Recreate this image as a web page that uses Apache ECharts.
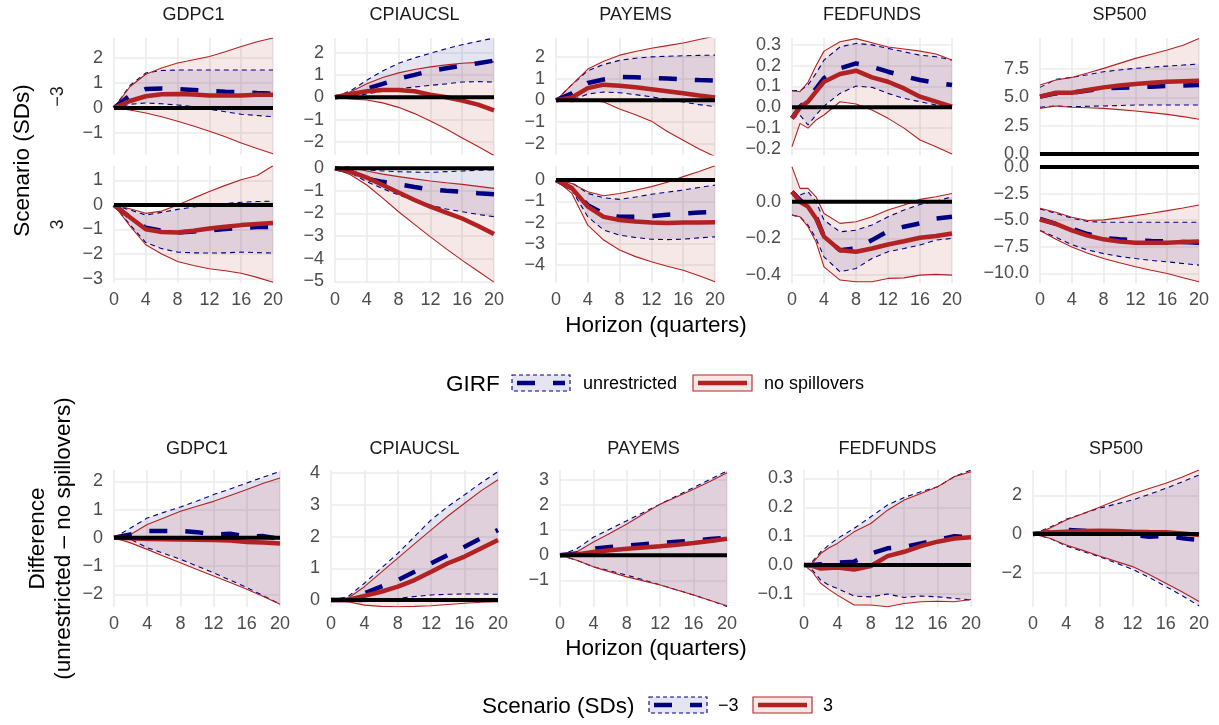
<!DOCTYPE html>
<html><head><meta charset="utf-8">
<script src="https://cdn.jsdelivr.net/npm/echarts@6/dist/echarts.min.js"></script>
<style>html,body{margin:0;padding:0;background:#fff}#c{width:1219px;height:725px}</style>
</head><body><div id="c"></div>
<script>
// ---------------- DATA ----------------
const H = [0, 2, 4, 6, 8, 10, 12, 14, 16, 18, 20];
const H_FF = [0, 1, 2, 3, 4, 6, 8, 10, 12, 14, 16, 18, 20];
const VARS = ['GDPC1', 'CPIAUCSL', 'PAYEMS', 'FEDFUNDS', 'SP500'];
const X_TICKS = [0, 4, 8, 12, 16, 20];

// Scenario −3 : u = unrestricted, n = no spillovers
const neg3_GDPC1 = { h: H,
  uMed: [0, 0.5, 0.76, 0.78, 0.76, 0.72, 0.68, 0.65, 0.63, 0.6, 0.58],
  uLo:  [0, 0.15, 0.2, 0.17, 0.12, 0.05, -0.05, -0.15, -0.25, -0.3, -0.35],
  uHi:  [0, 0.9, 1.4, 1.5, 1.52, 1.52, 1.52, 1.52, 1.52, 1.52, 1.52],
  nMed: [0, 0.28, 0.47, 0.55, 0.56, 0.54, 0.5, 0.5, 0.5, 0.53, 0.53],
  nLo:  [0, -0.08, -0.2, -0.35, -0.53, -0.72, -0.93, -1.15, -1.4, -1.62, -1.83],
  nHi:  [0, 0.85, 1.35, 1.6, 1.8, 1.93, 2.06, 2.25, 2.46, 2.65, 2.8] };
const neg3_CPIAUCSL = { h: H,
  uMed: [0, 0.12, 0.38, 0.6, 0.83, 1.0, 1.18, 1.3, 1.41, 1.52, 1.64],
  uLo:  [0, 0.02, 0.15, 0.27, 0.38, 0.46, 0.53, 0.6, 0.68, 0.7, 0.68],
  uHi:  [0, 0.3, 0.76, 1.18, 1.52, 1.76, 1.97, 2.17, 2.35, 2.5, 2.65],
  nMed: [0, 0.15, 0.27, 0.33, 0.33, 0.27, 0.12, 0, -0.15, -0.33, -0.58],
  nLo:  [0, -0.08, -0.12, -0.25, -0.45, -0.73, -1.06, -1.42, -1.82, -2.2, -2.6],
  nHi:  [0, 0.25, 0.6, 0.88, 1.09, 1.24, 1.36, 1.45, 1.52, 1.56, 1.59] };
const neg3_PAYEMS = { h: H,
  uMed: [0, 0.32, 0.8, 0.96, 1.07, 1.06, 1.04, 1.0, 0.96, 0.93, 0.91],
  uLo:  [0, 0, 0.29, 0.38, 0.35, 0.26, 0.16, 0.04, -0.08, -0.2, -0.29],
  uHi:  [0, 0.72, 1.36, 1.65, 1.84, 1.94, 2.0, 2.03, 2.05, 2.07, 2.08],
  nMed: [0, 0.13, 0.56, 0.72, 0.67, 0.6, 0.51, 0.42, 0.32, 0.22, 0.13],
  nLo:  [0, -0.06, 0, -0.08, -0.4, -0.67, -0.96, -1.44, -1.84, -2.24, -2.59],
  nHi:  [0, 0.72, 1.44, 1.8, 2.08, 2.25, 2.4, 2.52, 2.64, 2.8, 2.96] };
const neg3_FEDFUNDS = { h: H_FF,
  uMed: [-0.053, 0.003, 0.035, 0.09, 0.14, 0.187, 0.211, 0.195, 0.171, 0.15, 0.131, 0.118, 0.107],
  uLo:  [-0.053, -0.037, -0.085, -0.037, 0.006, 0.067, 0.102, 0.096, 0.067, 0.043, 0.027, 0.011, 0.006],
  uHi:  [0.08, 0.08, 0.107, 0.163, 0.227, 0.29, 0.307, 0.3, 0.283, 0.267, 0.25, 0.243, 0.227],
  nMed: [-0.053, 0, 0.027, 0.075, 0.123, 0.16, 0.176, 0.144, 0.123, 0.091, 0.051, 0.027, 0.003],
  nLo:  [-0.189, -0.077, -0.1, -0.061, -0.037, 0.027, 0.016, -0.013, -0.053, -0.1, -0.157, -0.189, -0.224],
  nHi:  [0.08, 0.075, 0.12, 0.2, 0.27, 0.315, 0.33, 0.31, 0.29, 0.28, 0.27, 0.256, 0.227] };
const neg3_SP500 = { h: H,
  uMed: [5.06, 5.35, 5.41, 5.6, 5.79, 5.84, 5.88, 5.94, 6.0, 6.05, 6.09],
  uLo:  [4.12, 4.24, 4.18, 4.21, 4.24, 4.28, 4.32, 4.32, 4.32, 4.32, 4.32],
  uHi:  [5.88, 6.59, 6.76, 7.0, 7.26, 7.42, 7.56, 7.66, 7.76, 7.85, 7.94],
  nMed: [5.06, 5.41, 5.41, 5.65, 5.88, 6.05, 6.18, 6.28, 6.38, 6.43, 6.47],
  nLo:  [4.03, 4.24, 4.12, 4.08, 4.03, 3.92, 3.79, 3.65, 3.5, 3.3, 3.06],
  nHi:  [6.09, 6.53, 6.76, 7.15, 7.56, 8.0, 8.44, 8.8, 9.18, 9.6, 10.2] };

// Scenario 3
const pos3_GDPC1 = { h: H,
  uMed: [0, -0.5, -0.93, -1.05, -1.12, -1.08, -1.03, -0.98, -0.93, -0.9, -0.89],
  uLo:  [0, -0.8, -1.53, -1.78, -1.92, -1.95, -1.96, -1.95, -1.92, -1.94, -1.96],
  uHi:  [0, -0.2, -0.41, -0.3, -0.18, -0.08, 0, 0.06, 0.11, 0.14, 0.16],
  nMed: [0, -0.5, -0.99, -1.1, -1.12, -1.05, -0.96, -0.89, -0.82, -0.77, -0.73],
  nLo:  [0, -0.85, -1.62, -2.0, -2.3, -2.47, -2.6, -2.68, -2.78, -2.95, -3.15],
  nHi:  [0, -0.15, -0.34, -0.25, 0, 0.28, 0.55, 0.8, 1.03, 1.2, 1.6] };
const pos3_CPIAUCSL = { h: H,
  uMed: [0, -0.15, -0.47, -0.6, -0.71, -0.83, -0.93, -0.99, -1.04, -1.1, -1.15],
  uLo:  [0, -0.22, -0.59, -0.9, -1.18, -1.42, -1.63, -1.8, -1.92, -2.04, -2.14],
  uHi:  [0, 0.07, -0.07, -0.12, -0.15, -0.17, -0.18, -0.15, -0.12, -0.09, -0.07],
  nMed: [0, -0.15, -0.41, -0.74, -1.07, -1.4, -1.7, -1.96, -2.22, -2.55, -2.91],
  nLo:  [0, -0.3, -0.74, -1.32, -1.92, -2.48, -3.03, -3.56, -4.07, -4.55, -5.03],
  nHi:  [0, 0.03, -0.12, -0.26, -0.37, -0.47, -0.56, -0.64, -0.71, -0.8, -0.89] };
const pos3_PAYEMS = { h: H,
  uMed: [0, -0.39, -1.18, -1.57, -1.73, -1.72, -1.69, -1.63, -1.58, -1.53, -1.49],
  uLo:  [0, -0.47, -1.73, -2.35, -2.59, -2.7, -2.78, -2.8, -2.78, -2.72, -2.67],
  uHi:  [0, -0.12, -0.63, -0.83, -0.91, -0.8, -0.67, -0.57, -0.47, -0.35, -0.24],
  nMed: [0, -0.39, -1.25, -1.73, -1.88, -1.95, -2.0, -2.02, -2.0, -2.0, -1.99],
  nLo:  [0, -0.63, -2.12, -2.82, -3.29, -3.6, -3.84, -4.05, -4.24, -4.5, -4.78],
  nHi:  [0, -0.16, -0.55, -0.74, -0.63, -0.48, -0.31, -0.1, 0.16, 0.4, 0.67] };
const pos3_FEDFUNDS = { h: H_FF,
  uMed: [0.055, 0.009, -0.027, -0.082, -0.19, -0.264, -0.255, -0.209, -0.16, -0.136, -0.118, -0.091, -0.082],
  uLo:  [-0.073, -0.082, -0.127, -0.2, -0.3, -0.382, -0.364, -0.309, -0.273, -0.255, -0.236, -0.209, -0.2],
  uHi:  [0.055, 0.036, 0.055, 0, -0.1, -0.164, -0.155, -0.127, -0.082, -0.045, -0.015, 0.004, 0.027],
  nMed: [0.055, 0, -0.027, -0.091, -0.19, -0.264, -0.273, -0.255, -0.233, -0.215, -0.196, -0.187, -0.173],
  nLo:  [-0.073, -0.082, -0.136, -0.218, -0.355, -0.427, -0.436, -0.436, -0.418, -0.415, -0.4, -0.396, -0.4],
  nHi:  [0.19, 0.073, 0.073, 0.027, -0.064, -0.118, -0.109, -0.082, -0.045, -0.018, 0.013, 0.027, 0.045] };
const pos3_SP500 = { h: H,
  uMed: [-4.88, -5.35, -5.81, -6.3, -6.68, -6.8, -6.89, -6.95, -6.99, -7.05, -7.11],
  uLo:  [-5.96, -6.6, -7.3, -7.8, -8.14, -8.4, -8.6, -8.78, -8.91, -9.07, -9.22],
  uHi:  [-3.94, -4.35, -4.81, -5.12, -5.19, -5.19, -5.19, -5.19, -5.19, -5.19, -5.19],
  nMed: [-4.94, -5.34, -5.96, -6.45, -6.8, -7.0, -7.11, -7.12, -7.11, -7.05, -6.99],
  nLo:  [-5.96, -6.8, -7.52, -8.1, -8.6, -9.0, -9.38, -9.7, -10.0, -10.4, -10.78],
  nHi:  [-3.88, -4.25, -4.72, -5.03, -4.97, -4.78, -4.57, -4.35, -4.1, -3.85, -3.57] };

// Difference (unrestricted − no spillovers): u = scenario −3, n = scenario 3
const diff_GDPC1 = { h: H,
  uMed: [0, 0.12, 0.24, 0.24, 0.24, 0.2, 0.12, 0.14, 0.04, 0.06, -0.04],
  uLo:  [0, -0.06, -0.35, -0.55, -0.76, -1.0, -1.24, -1.5, -1.76, -2.05, -2.35],
  uHi:  [0, 0.35, 0.7, 0.9, 1.09, 1.3, 1.53, 1.73, 1.94, 2.15, 2.35],
  nMed: [0, -0.02, -0.04, -0.05, -0.06, -0.07, -0.08, -0.1, -0.15, -0.17, -0.2],
  nLo:  [0, -0.18, -0.41, -0.65, -0.88, -1.12, -1.35, -1.58, -1.82, -2.08, -2.35],
  nHi:  [0, 0.12, 0.47, 0.7, 0.94, 1.12, 1.29, 1.5, 1.71, 1.93, 2.12] };
const diff_CPIAUCSL = { h: H,
  uMed: [0, 0, 0.21, 0.42, 0.63, 0.89, 1.16, 1.42, 1.68, 1.95, 2.21],
  uLo:  [0, -0.05, -0.05, 0, 0.05, 0.11, 0.16, 0.18, 0.19, 0.19, 0.18],
  uHi:  [0, 0.1, 0.53, 1.0, 1.47, 2.0, 2.53, 2.95, 3.32, 3.7, 4.05],
  nMed: [0, 0, 0.13, 0.26, 0.42, 0.63, 0.89, 1.16, 1.37, 1.63, 1.89],
  nLo:  [0, -0.05, -0.16, -0.2, -0.21, -0.2, -0.18, -0.14, -0.1, -0.07, -0.05],
  nHi:  [0, 0.05, 0.42, 0.87, 1.32, 1.77, 2.21, 2.65, 3.05, 3.45, 3.79] };
const diff_PAYEMS = { h: H,
  uMed: [0, 0.07, 0.26, 0.33, 0.39, 0.44, 0.49, 0.54, 0.59, 0.65, 0.7],
  uLo:  [0, -0.2, -0.46, -0.62, -0.79, -0.98, -1.18, -1.38, -1.58, -1.8, -2.04],
  uHi:  [0, 0.26, 0.72, 1.05, 1.38, 1.71, 2.04, 2.37, 2.7, 3.03, 3.36],
  nMed: [0, 0.03, 0.13, 0.2, 0.26, 0.31, 0.36, 0.42, 0.49, 0.57, 0.66],
  nLo:  [0, -0.2, -0.46, -0.66, -0.86, -1.02, -1.18, -1.38, -1.58, -1.8, -2.01],
  nHi:  [0, 0.13, 0.53, 0.88, 1.25, 1.65, 2.04, 2.33, 2.63, 2.95, 3.29] };
const diff_FEDFUNDS = { h: H_FF,
  uMed: [0, 0, 0.003, 0.005, 0.008, 0.012, 0.04, 0.058, 0.063, 0.075, 0.087, 0.1, 0.096],
  uLo:  [0, -0.017, -0.052, -0.07, -0.081, -0.107, -0.11, -0.1, -0.112, -0.107, -0.11, -0.115, -0.121],
  uHi:  [0, 0.012, 0.046, 0.07, 0.092, 0.127, 0.167, 0.208, 0.234, 0.254, 0.271, 0.306, 0.329],
  nMed: [0, -0.003, -0.012, -0.01, -0.008, -0.015, -0.003, 0.031, 0.046, 0.066, 0.081, 0.092, 0.096],
  nLo:  [0, -0.023, -0.063, -0.085, -0.104, -0.138, -0.138, -0.144, -0.133, -0.127, -0.125, -0.127, -0.119],
  nHi:  [0, 0.006, 0.04, 0.06, 0.075, 0.115, 0.144, 0.19, 0.225, 0.248, 0.271, 0.306, 0.323] };
const diff_SP500 = { h: H,
  uMed: [0, 0.07, 0.21, 0.17, 0.12, 0.03, -0.05, -0.14, -0.1, -0.22, -0.31],
  uLo:  [0, -0.22, -0.62, -0.9, -1.17, -1.5, -1.83, -2.25, -2.72, -3.2, -3.72],
  uHi:  [0, 0.34, 0.76, 1.05, 1.33, 1.55, 1.76, 2.05, 2.36, 2.7, 3.05],
  nMed: [0, 0.07, 0.12, 0.15, 0.17, 0.15, 0.12, 0.1, 0.09, 0.03, -0.05],
  nLo:  [0, -0.22, -0.57, -0.85, -1.14, -1.42, -1.69, -2.1, -2.55, -3.0, -3.5],
  nHi:  [0, 0.29, 0.72, 1.05, 1.38, 1.73, 2.07, 2.35, 2.62, 2.95, 3.31] };

const ROW_DATA = [
  [neg3_GDPC1, neg3_CPIAUCSL, neg3_PAYEMS, neg3_FEDFUNDS, neg3_SP500],
  [pos3_GDPC1, pos3_CPIAUCSL, pos3_PAYEMS, pos3_FEDFUNDS, pos3_SP500],
  [diff_GDPC1, diff_CPIAUCSL, diff_PAYEMS, diff_FEDFUNDS, diff_SP500]
];
// y range per panel: [min, max, decimals]
const Y_RANGES = [
  [[-1.88, 2.8, 0], [-2.58, 2.65, 0], [-2.52, 2.87, 0], [-0.229, 0.333, 1], [-0.09, 10.24, 1]],
  [[-3.18, 1.59, 0], [-5.07, 0.1, 0], [-4.84, 0.66, 0], [-0.443, 0.195, 1], [-10.9, 0.09, 1]],
  [[-2.45, 2.4, 0], [-0.22, 4.1, 0], [-2.06, 3.4, 0], [-0.145, 0.329, 1], [-3.78, 3.31, 0]]
];
// y tick labels per panel
const Y_TICKS = [
  [[-1, 0, 1, 2], [-2, -1, 0, 1, 2], [-2, -1, 0, 1, 2], [-0.2, -0.1, 0, 0.1, 0.2, 0.3], [0, 2.5, 5, 7.5]],
  [[-3, -2, -1, 0, 1], [-5, -4, -3, -2, -1, 0], [-4, -3, -2, -1, 0], [-0.4, -0.2, 0], [-10, -7.5, -5, -2.5, 0]],
  [[-2, -1, 0, 1, 2], [0, 1, 2, 3, 4], [-1, 0, 1, 2, 3], [-0.1, 0, 0.1, 0.2, 0.3], [-2, 0, 2]]
];

// ---------------- LAYOUT / STYLE ----------------
const FONT = '"Liberation Sans", Arial, Helvetica, sans-serif';
const NAVY = '#000080', RED = '#B22222';
const NAVY_FILL = 'rgba(0,0,128,0.1)', RED_FILL = 'rgba(178,34,34,0.1)';
const GRID_C = '#EBEBEB', TICK_C = '#4D4D4D';
const LEFT_TOP = [114, 335, 556, 792, 1040], W_TOP = [159, 159, 159, 160, 159];
const LEFT_BOT = [114, 331, 560, 804, 1033], W_BOT = [166, 167, 167, 167, 166];
const ROW_Y = [38, 166, 470], ROW_H = [117, 117, 137];

function fmt(v, d) { if (Math.abs(v) < 1e-9) v = 0; return v.toFixed(d).replace('-', '\u2212'); }

const grids = [], xAxes = [], yAxes = [], series = [];
function band(gi, h, lo, hi, fill) {
  return { type: 'custom', coordinateSystem: 'cartesian2d', xAxisIndex: gi, yAxisIndex: gi,
    silent: true, clip: true, z: 1,
    data: h.map((x, i) => [x, lo[i], hi[i]]), encode: { x: 0, y: [1, 2] },
    renderItem: (p, api) => {
      if (p.dataIndex !== 0) return null;
      const pts = [];
      for (let i = 0; i < h.length; i++) pts.push(api.coord([h[i], hi[i]]));
      for (let i = h.length - 1; i >= 0; i--) pts.push(api.coord([h[i], lo[i]]));
      return { type: 'polygon', shape: { points: pts }, style: { fill: fill, stroke: null } };
    } };
}
function line(gi, h, v, color, width, type, z, clip) {
  return { type: 'line', xAxisIndex: gi, yAxisIndex: gi, data: h.map((x, i) => [x, v[i]]),
    showSymbol: false, symbol: 'none', silent: true, z: z, clip: clip !== false,
    lineStyle: { color: color, width: width, type: type, cap: 'butt' } };
}

let gi = 0;
for (let r = 0; r < 3; r++) {
  for (let c = 0; c < 5; c++) {
    const left = r < 2 ? LEFT_TOP[c] : LEFT_BOT[c];
    const width = r < 2 ? W_TOP[c] : W_BOT[c];
    grids.push({ left: left, top: ROW_Y[r], width: width, height: ROW_H[r], containLabel: false, outerBoundsMode: 'none' });
    xAxes.push({ gridIndex: gi, type: 'value', min: X_TICKS[0], max: X_TICKS[X_TICKS.length - 1], interval: 4,
      axisLine: { show: false }, axisTick: { show: false },
      axisLabel: { show: r > 0, margin: 8, color: TICK_C, fontSize: 18, fontFamily: FONT },
      splitLine: { show: true, lineStyle: { color: GRID_C, width: 1.6 } } });
    const yr = Y_RANGES[r][c], yt = Y_TICKS[r][c];
    yAxes.push({ gridIndex: gi, type: 'value', min: yr[0], max: yr[1],
      axisLine: { show: false }, axisTick: { show: false, customValues: yt },
      axisLabel: { customValues: yt, margin: 11, color: TICK_C, fontSize: 18, fontFamily: FONT,
        formatter: (v => fmt(v, yr[2])) },
      splitLine: { show: true, lineStyle: { color: GRID_C, width: 1.6 } } });
    const d = ROW_DATA[r][c];
    series.push(band(gi, d.h, d.uLo, d.uHi, NAVY_FILL));
    series.push(band(gi, d.h, d.nLo, d.nHi, RED_FILL));
    series.push(line(gi, d.h, d.uLo, NAVY, 1.1, [5, 4], 3));
    series.push(line(gi, d.h, d.uHi, NAVY, 1.1, [5, 4], 3));
    series.push(line(gi, d.h, d.nLo, RED, 1.1, 'solid', 3));
    series.push(line(gi, d.h, d.nHi, RED, 1.1, 'solid', 3));
    series.push(line(gi, d.h, d.uMed, NAVY, 4.5, [18, 18], 4));
    series.push(line(gi, d.h, d.nMed, RED, 4.5, 'solid', 5));
    series.push(line(gi, [0, 20], [0, 0], '#000000', 4, 'solid', 6, false));
    gi++;
  }
}

// ---------------- TEXT & LEGENDS ----------------
function txt(x, y, text, size, color, align, rot) {
  return { type: 'text', x: x, y: y, rotation: rot || 0, silent: true, z: 100,
    style: { text: text, fontSize: size, fontFamily: FONT, fill: color,
      align: align || 'center', verticalAlign: 'middle', textAlign: align || 'center', textVerticalAlign: 'middle' } };
}
const graphic = [];
for (let c = 0; c < 5; c++) {
  graphic.push(txt(LEFT_TOP[c] + W_TOP[c] / 2, 15.5, VARS[c], 18, '#1A1A1A'));
  graphic.push(txt(LEFT_BOT[c] + W_BOT[c] / 2, 449.5, VARS[c], 18, '#1A1A1A'));
}
const ROT = Math.PI / 2;
graphic.push(txt(23, 160.5, 'Scenario (SDs)', 22.5, '#000', 'center', ROT));
graphic.push(txt(58, 96.5, '\u22123', 18, '#1A1A1A', 'center', ROT));
graphic.push(txt(58, 224.5, '3', 18, '#1A1A1A', 'center', ROT));
graphic.push(txt(38, 538.5, 'Difference', 22.5, '#000', 'center', ROT));
graphic.push(txt(64, 538.5, '(unrestricted \u2013 no spillovers)', 22.5, '#000', 'center', ROT));
graphic.push(txt(656, 326, 'Horizon (quarters)', 22.5, '#000'));
graphic.push(txt(656, 649, 'Horizon (quarters)', 22.5, '#000'));

function key(x, y, w, h, kind) {
  const navy = kind === 'navy';
  return [
    { type: 'rect', silent: true, z: 100, shape: { x: x, y: y, width: w, height: h },
      style: { fill: navy ? NAVY_FILL : RED_FILL, stroke: navy ? NAVY : RED, lineWidth: 1.1, lineDash: navy ? [4, 3] : null } },
    { type: 'line', silent: true, z: 101, shape: { x1: x + 5, y1: y + h / 2, x2: x + w - 5, y2: y + h / 2 },
      style: { stroke: navy ? NAVY : RED, lineWidth: 4.5, lineDash: navy ? [18, 18] : null } }
  ];
}
graphic.push(txt(446, 385, 'GIRF', 22.5, '#000', 'left'));
graphic.push(...key(512, 375, 58, 16, 'navy'));
graphic.push(txt(583, 384.5, 'unrestricted', 18, '#000', 'left'));
graphic.push(...key(693, 375, 59, 16, 'red'));
graphic.push(txt(764, 384.5, 'no spillovers', 18, '#000', 'left'));

graphic.push(txt(482, 706.5, 'Scenario (SDs)', 22.5, '#000', 'left'));
graphic.push(...key(649, 697, 58, 16, 'navy'));
graphic.push(txt(718, 706, '\u22123', 18, '#000', 'left'));
graphic.push(...key(753, 697, 59, 16, 'red'));
graphic.push(txt(823, 706, '3', 18, '#000', 'left'));

const chart = echarts.init(document.getElementById('c'), null, { renderer: 'canvas' });
chart.setOption({
  animation: false, backgroundColor: '#ffffff',
  grid: grids, xAxis: xAxes, yAxis: yAxes, series: series, graphic: graphic
});
</script></body></html>
